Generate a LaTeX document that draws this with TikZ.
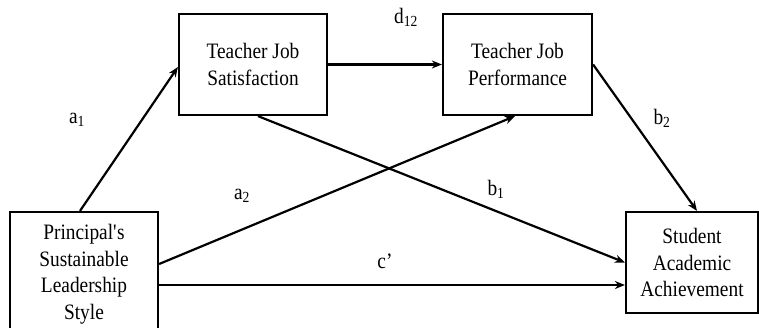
\documentclass[tikz,border=0pt]{standalone}
\usepackage{fontspec}
\setmainfont{Liberation Serif}[FakeStretch=0.88]
\usetikzlibrary{arrows.meta}
\begin{document}
\begin{tikzpicture}[x=1pt,y=-1pt,
  box/.style={draw,line width=2.2pt,align=center,inner sep=0pt,
    font=\fontsize{22}{26.5}\selectfont},
  arr/.style={line width=2.2pt,-{Stealth[length=10pt,width=8pt]}},
  lab/.style={font=\fontsize{22}{26.5}\selectfont,inner sep=0pt}]
\useasboundingbox (0,0) rectangle (759,327);
\node[box,minimum width=148pt,minimum height=101pt] (tjs) at (253,64.5) {Teacher Job\\Satisfaction};
\node[box,minimum width=149pt,minimum height=101pt] (tjp) at (517.5,64.5) {Teacher Job\\Performance};
\node[box,minimum width=148pt,minimum height=124pt] (psls) at (84,274) {Principal\textquotesingle s\\Sustainable\\Leadership\\Style};
\node[box,minimum width=132pt,minimum height=101pt] (saa) at (692,262.5) {Student\\Academic\\Achievement};
\draw[arr] ([xshift=-4pt]psls.north) -- ([yshift=-2.5pt]tjs.west);
\draw[arr] (tjs.east) -- (tjp.west);
\draw[arr] ([yshift=10pt]psls.east) -- ([xshift=-2.5pt]tjp.south);
\draw[arr] ([xshift=5pt]tjs.south) -- (saa.west);
\draw[arr] (tjp.east) -- ([xshift=5pt]saa.north);
\coordinate (cs) at ([yshift=-11pt]psls.east);
\draw[arr] (cs) -- (cs -| saa.west);
\node[lab] (la1) at (77,120) {a\textsubscript{1}};
\node[lab] (ld12) at (406,17) {d\textsubscript{12}};
\node[lab] (lb2) at (662,118) {b\textsubscript{2}};
\node[lab] (la2) at (242,196) {a\textsubscript{2}};
\node[lab] (lb1) at (496,189) {b\textsubscript{1}};
\node[lab] (lc) at (385,261) {c’};
\end{tikzpicture}
\end{document}
